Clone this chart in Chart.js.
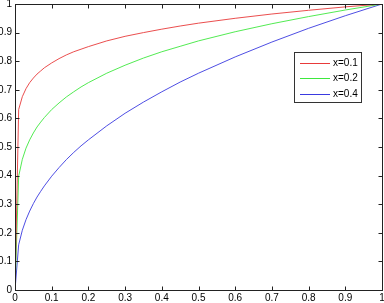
<!DOCTYPE html>
<html>
<head>
<meta charset="utf-8">
<script src="https://cdn.jsdelivr.net/npm/chart.js@4/dist/chart.umd.min.js"></script>
<style>
html,body{margin:0;padding:0;background:#fff;}
canvas{display:block;}
</style>
</head>
<body>
<canvas id="c" width="384" height="303"></canvas>
<script>
// sample positions along the x axis
const tValues = [0, 0.01, 0.02, 0.03, 0.04, 0.05, 0.06, 0.07, 0.08, 0.1, 0.12, 0.14, 0.16, 0.18, 0.2, 0.25, 0.3, 0.35, 0.4, 0.45, 0.5, 0.6, 0.7, 0.8, 0.9, 1.0];
// series
const seriesLabels = ["x=0.1", "x=0.2", "x=0.4"];
const series01 = [0, 0.631, 0.676, 0.704, 0.725, 0.741, 0.755, 0.766, 0.777, 0.794, 0.809, 0.822, 0.833, 0.842, 0.851, 0.871, 0.887, 0.900, 0.912, 0.923, 0.933, 0.950, 0.965, 0.978, 0.990, 1.0];
const series02 = [0, 0.398, 0.457, 0.496, 0.525, 0.549, 0.570, 0.587, 0.603, 0.631, 0.654, 0.675, 0.693, 0.710, 0.725, 0.758, 0.786, 0.811, 0.833, 0.852, 0.871, 0.903, 0.931, 0.956, 0.979, 1.0];
const series04 = [0, 0.158, 0.209, 0.246, 0.276, 0.302, 0.325, 0.345, 0.364, 0.398, 0.428, 0.456, 0.481, 0.504, 0.525, 0.574, 0.618, 0.657, 0.693, 0.727, 0.758, 0.815, 0.867, 0.915, 0.959, 1.0];
const tickLabels = ["0", "0.1", "0.2", "0.3", "0.4", "0.5", "0.6", "0.7", "0.8", "0.9", "1"];
const seriesColors = ["#e83a3a", "#3ee83e", "#3a3ae0"];

const FONT = {family: "'Liberation Sans', Arial, sans-serif", size: 10};

function toPoints(ys) { return tValues.map((t, i) => ({x: t, y: ys[i]})); }

const boxPlugin = {
  id: 'matlabBox',
  beforeDraw(chart) {
    const ctx = chart.ctx;
    ctx.save();
    ctx.fillStyle = '#fff';
    ctx.fillRect(0, 0, chart.width, chart.height);
    ctx.restore();
  },
  afterDatasetsDraw(chart) {
    const ctx = chart.ctx;
    const a = chart.chartArea;
    const xs = chart.scales.x, ys = chart.scales.y;
    const L = Math.round(a.left) + 0.5, R = Math.round(a.right) + 0.5;
    const T = Math.round(a.top) + 0.5, B = Math.round(a.bottom) + 0.5;
    ctx.save();
    ctx.strokeStyle = '#222';
    ctx.lineWidth = 1;
    ctx.strokeRect(L, T, R - L, B - T);
    const tl = 4;
    ctx.beginPath();
    xs.ticks.forEach(tk => {
      const px = Math.round(xs.getPixelForValue(tk.value)) + 0.5;
      ctx.moveTo(px, B); ctx.lineTo(px, B - tl);
      ctx.moveTo(px, T); ctx.lineTo(px, T + tl);
    });
    ys.ticks.forEach(tk => {
      const py = Math.round(ys.getPixelForValue(tk.value)) + 0.5;
      ctx.moveTo(L, py); ctx.lineTo(L + tl, py);
      ctx.moveTo(R, py); ctx.lineTo(R - tl, py);
    });
    ctx.stroke();

    // legend
    const bx = 294.5, by = 52.5, bw = 67, bh = 50;
    ctx.fillStyle = '#fff';
    ctx.fillRect(bx, by, bw, bh);
    ctx.strokeStyle = '#333';
    ctx.strokeRect(bx, by, bw, bh);
    ctx.font = "10px 'Liberation Sans', Arial, sans-serif";
    ctx.textBaseline = 'middle';
    ctx.textAlign = 'left';
    chart.data.datasets.forEach((ds, i) => {
      const y = 62.5 + i * 15.5;
      ctx.strokeStyle = ds.borderColor;
      ctx.beginPath();
      ctx.moveTo(300, Math.round(y) + 0.5);
      ctx.lineTo(330, Math.round(y) + 0.5);
      ctx.stroke();
      ctx.fillStyle = '#000';
      ctx.fillText(ds.label, 333, y + 0.5);
    });
    ctx.restore();
  }
};

new Chart(document.getElementById('c'), {
  type: 'line',
  data: {
    datasets: [series01, series02, series04].map((s, i) => ({
      label: seriesLabels[i],
      data: toPoints(s),
      borderColor: seriesColors[i],
      borderWidth: 0.9,
      pointRadius: 0,
      tension: 0,
      fill: false
    }))
  },
  options: {
    responsive: false,
    devicePixelRatio: 1,
    animation: false,
    layout: {padding: {top: 4, right: 2, left: 0, bottom: 0}},
    plugins: {legend: {display: false}, tooltip: {enabled: false}},
    scales: {
      x: {
        type: 'linear', min: 0, max: 1,
        grid: {display: false, drawTicks: false},
        border: {display: false},
        ticks: {
          stepSize: 0.1, padding: 2, color: '#000', font: FONT, maxRotation: 0, autoSkip: false,
          callback: (v, i) => tickLabels[i]
        },
        afterFit(s) { s.height = 13; s.paddingLeft = 0; s.paddingRight = 0; }
      },
      y: {
        type: 'linear', min: 0, max: 1,
        grid: {display: false, drawTicks: false},
        border: {display: false},
        ticks: {
          stepSize: 0.1, padding: 3, color: '#000', font: FONT, autoSkip: false,
          callback: (v, i) => tickLabels[i]
        },
        afterFit(s) { s.width = 15; s.paddingTop = 0; s.paddingBottom = 0; }
      }
    }
  },
  plugins: [boxPlugin]
});
</script>
</body>
</html>
